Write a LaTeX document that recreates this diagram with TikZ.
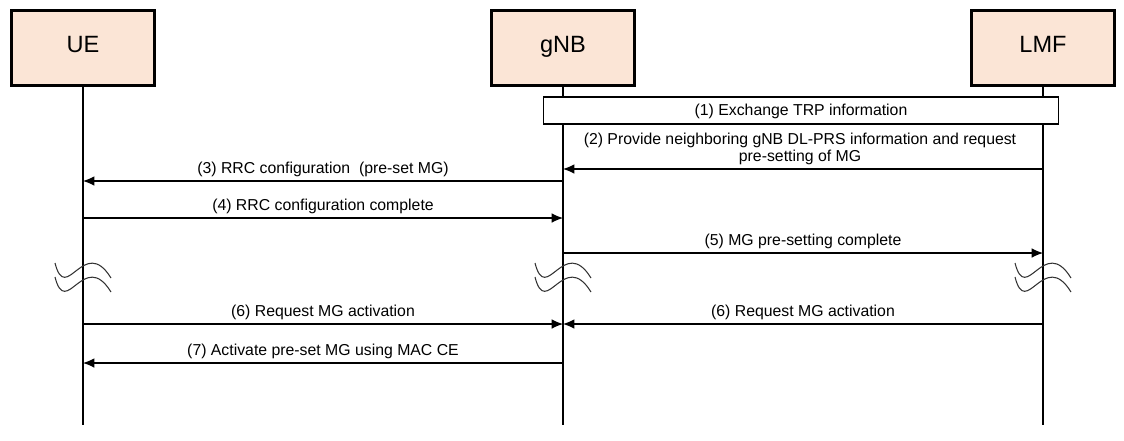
\documentclass[tikz,border=0pt]{standalone}
\usepackage{fontspec}
\setmainfont{Liberation Sans}
\usetikzlibrary{arrows.meta}
\definecolor{peach}{HTML}{FBE5D6}

\begin{document}
\begin{tikzpicture}[x=0.02cm,y=-0.02cm,
		entity/.style={draw,line width=1.4pt,fill=peach,minimum width=2.86cm,minimum height=1.5cm,text height=0.72em,text depth=0.2em,font=\fontsize{13.4}{16}\selectfont},
		lifeline/.style={line width=0.6pt},
		msg/.style={line width=0.6pt,-{Latex[length=6.5pt,width=5.5pt]}},
		lbl/.style={above=1.3pt,inner sep=1pt,font=\fontsize{9}{9.6}\selectfont},
		squiggle/.style={line width=0.6pt,black!80}]
		\useasboundingbox (0,0) rectangle (1124,440);
		\node[entity] (ue) at (83,48) {UE};
		\node[entity] (gnb) at (563,48) {gNB};
		\node[entity] (lmf) at (1043,48) {LMF};
		\coordinate (bottom) at (0,425);
		\foreach \e in {ue,gnb,lmf}
			\draw[lifeline] (\e) -- (\e.south |- bottom);
		% breaks in the timeline
		\foreach \lx in {83,563,1043}
			\foreach \dy in {0,14}
				\draw[squiggle] (\lx-28,263+\dy) .. controls (\lx-17,306+\dy) and (\lx+1,234+\dy) .. (\lx+28,278+\dy);
		\node[draw,fill=white,line width=0.6pt,minimum width=10.32cm,minimum height=0.54cm,text depth=0.1em,font=\fontsize{9}{9.6}\selectfont] (trp) at (801,110.5) {(1) Exchange TRP information};
		\foreach \n/\y in {2/169,3/181,4/218,5/253,6/324,7/363} {
			\coordinate (ue\n) at (83,\y);
			\coordinate (gnb\n) at (563,\y);
			\coordinate (lmf\n) at (1043,\y);
		}
		\draw[msg] (lmf2) -- (gnb2) node[midway,lbl,align=center,xshift=-0.06cm] {(2) Provide neighboring gNB DL-PRS information and request\\pre-setting of MG};
		\draw[msg] (gnb3) -- (ue3) node[midway,lbl] {(3) RRC configuration\ \ (pre-set MG)};
		\draw[msg] (ue4) -- (gnb4) node[midway,lbl] {(4) RRC configuration complete};
		\draw[msg] (gnb5) -- (lmf5) node[midway,lbl] {(5) MG pre-setting complete};
		\draw[msg] (ue6) -- (gnb6) node[midway,lbl] {(6) Request MG activation};
		\draw[msg] (lmf6) -- (gnb6) node[midway,lbl] {(6) Request MG activation};
		\draw[msg] (gnb7) -- (ue7) node[midway,lbl] {(7) Activate pre-set MG using MAC CE};
\end{tikzpicture}
\end{document}
